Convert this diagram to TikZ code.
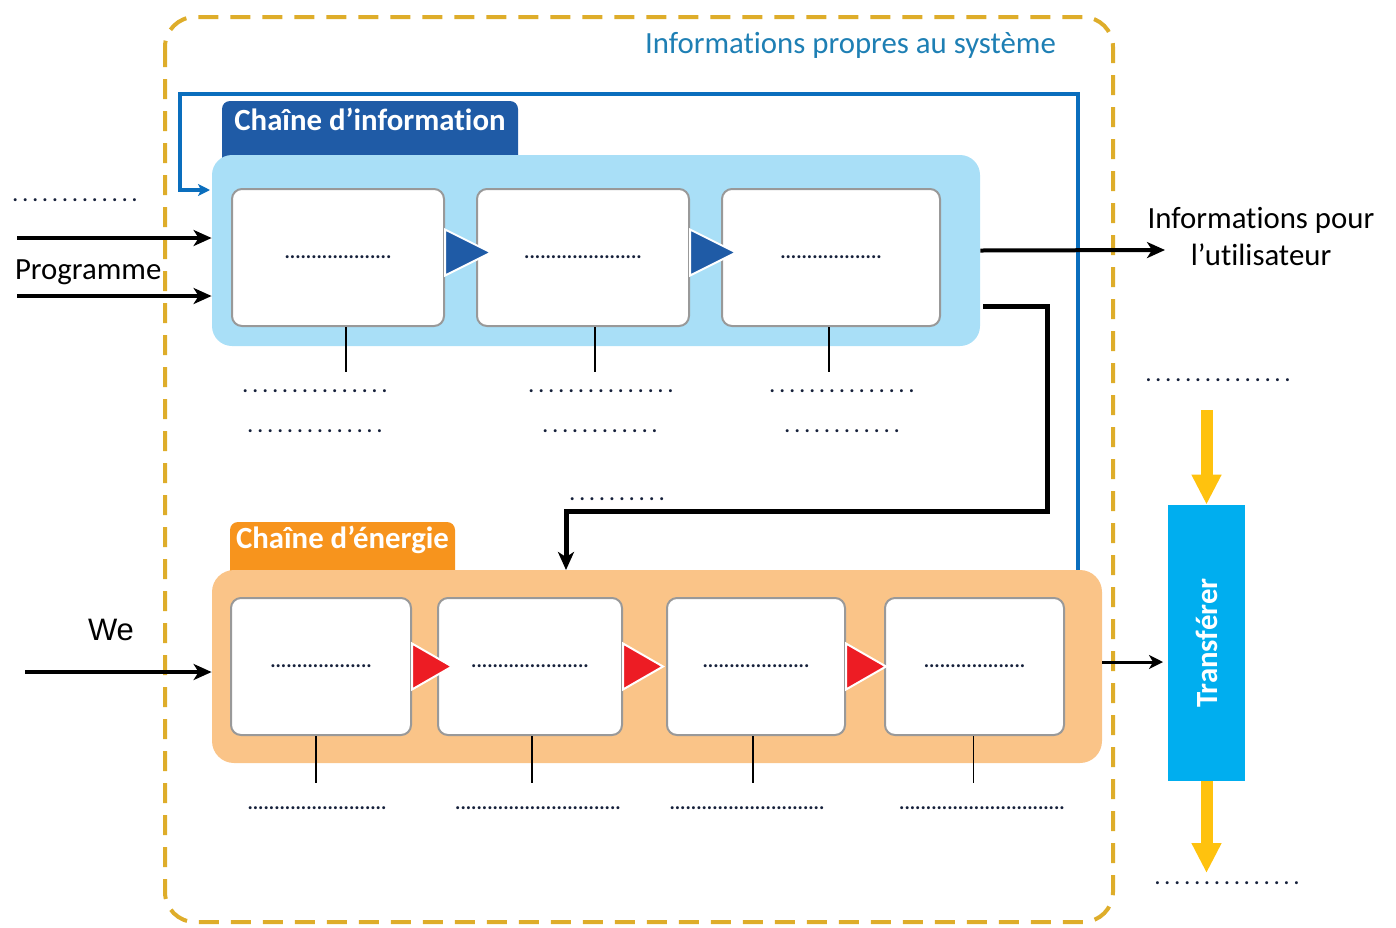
\documentclass[tikz,border=0pt]{standalone}
\usepackage{fontspec}
\usepackage{graphicx}
\setmainfont{Carlito}[Ligatures={NoCommon}]
\newfontfamily\arialfont{Liberation Sans}
\usetikzlibrary{arrows.meta}
\definecolor{cadre}{HTML}{DEAD2A}
\definecolor{titrebleu}{HTML}{1E7FB4}
\definecolor{retourbleu}{HTML}{0A6EBD}
\definecolor{infoclair}{HTML}{A9DFF7}
\definecolor{infofonce}{HTML}{1F5BA6}
\definecolor{energieclair}{HTML}{FAC488}
\definecolor{energiefonce}{HTML}{F7941D}
\definecolor{rouge}{HTML}{ED1C24}
\definecolor{transfert}{HTML}{00AEEF}
\definecolor{jaune}{HTML}{FFC20E}
\definecolor{pointcol}{HTML}{15203A}
% rows of dots, tight or spaced
\newcommand{\serre}[1]{\foreach\k in {1,...,#1}{.}}
\newcommand{\espace}[1]{\foreach\k in {1,...,#1}{.\hspace{2.3pt}}}
\begin{document}
\begin{tikzpicture}[x=0.5pt,y=-0.5pt,
		txt/.style={font=\fontsize{15.4}{18.5}\selectfont},
		titre/.style={text=white,font=\fontsize{15.4}{18.5}\selectfont\bfseries},
		boite/.style={draw=black!40,fill=white,rounded corners=5pt,line width=1pt,minimum height=68.5pt,inner sep=0pt,text=pointcol,font=\fontsize{10}{12}\selectfont\bfseries},
		pts/.style={text=pointcol,inner sep=0pt,font=\fontsize{10}{12}\selectfont\bfseries},
		trait/.style={line width=2pt,-{Stealth[length=9pt,width=8pt,inset=2.5pt]}}]
		\useasboundingbox (0,0) rectangle (1396,927);
		\coordinate (p1) at (17,238);
		\coordinate (p2) at (17,296);
		\coordinate (w0) at (25,672);
		\coordinate (u0) at (1165,250);
		\coordinate (o1) at (983,306);
		\coordinate (o2) at (1047,511);
		\coordinate (o3) at (566,570);
		\coordinate (r0) at (1078,570);
		\coordinate (r1) at (180,94);
		\coordinate (r2) at (210,190);
		\coordinate (t0) at (1163,662);
		\coordinate (j1) at (1206.5,410);
		\coordinate (j2) at (1206.5,873);
		% frame
		\draw[cadre,line width=2pt,dash pattern=on 10pt off 6pt,rounded corners=15pt] (165,17) rectangle (1113,922);
		\node[txt,text=titrebleu,anchor=east] (sys) at (1063,45) {Informations propres au système};
		% information chain
		\draw[retourbleu,line width=2pt,-{Stealth[length=6pt,width=6pt,inset=1.5pt]}] (r0) |- (r1) |- (r2);
		\node[fill=infofonce,rounded corners=4pt,minimum width=148pt,minimum height=35pt,inner sep=0pt] (ti) at (370,136) {};
		\node[titre] (tit) at (370,119) {Chaîne d’information};
		\node[fill=infoclair,rounded corners=10pt,minimum width=384pt,minimum height=95.5pt,inner sep=0pt] (ci) at (596,250.5) {};
		\node[boite,minimum width=106pt] (i1) at (338,257.5) {\serre{20}};
		\node[boite,minimum width=106pt] (i2) at (583,257.5) {\serre{22}};
		\node[boite,minimum width=109pt] (i3) at (831,257.5) {\serre{19}};
		\filldraw[fill=infofonce,draw=white,line width=1pt] (i1.east) ++(0,-28) -- ++(46,23) -- ++(-46,23) -- cycle;
		\filldraw[fill=infofonce,draw=white,line width=1pt] (i2.east) ++(0,-28) -- ++(46,23) -- ++(-46,23) -- cycle;
		\draw[line width=0.75pt] ([xshift=4pt]i1.south) -- ++(0,45);
		\draw[line width=0.75pt] ([xshift=6pt]i2.south) -- ++(0,45);
		\draw[line width=0.75pt] ([xshift=-1pt]i3.south) -- ++(0,45);
		\node[pts] (a1) at (315,391) {\espace{15}};
		\node[pts] (a2) at (601,391) {\espace{15}};
		\node[pts] (a3) at (842,391) {\espace{15}};
		\node[pts] (b1) at (315,431) {\espace{14}};
		\node[pts] (b2) at (600,431) {\espace{12}};
		\node[pts] (b3) at (842,431) {\espace{12}};
		% inputs and outputs of the information chain
		\node[pts] (d0) at (75,200) {\espace{13}};
		\node[txt,anchor=west] (prog) at (8,272) {Programme};
		\draw[trait] (p1) -- (p1 -| ci.west);
		\draw[trait] (p2) -- (p2 -| ci.west);
		\draw[trait] (ci.east) -- (u0);
		\node[txt,align=center] (util) at (1261,236.5) {Informations pour\\l’utilisateur};
		\draw[line width=2.5pt,-{Stealth[length=9pt,width=8pt,inset=2.5pt]}] (o1) -| (o2) -| (o3);
		\node[pts] (d1) at (617,499) {\espace{10}};
		% energy chain
		\node[fill=energiefonce,rounded corners=4pt,minimum width=112.5pt,minimum height=31.5pt,inner sep=0pt] (te) at (342.5,553.5) {};
		\node[titre] (tet) at (342.5,540) {Chaîne d’énergie};
		\node[fill=energieclair,rounded corners=11pt,minimum width=445pt,minimum height=96.5pt,inner sep=0pt] (ce) at (657,666.5) {};
		\node[boite,minimum width=90pt] (e1) at (321,666.5) {\serre{19}};
		\node[boite,minimum width=92pt] (e2) at (530,666.5) {\serre{22}};
		\node[boite,minimum width=89pt] (e3) at (756,666.5) {\serre{20}};
		\node[boite,minimum width=89.5pt] (e4) at (974.5,666.5) {\serre{19}};
		\filldraw[fill=rouge,draw=white,line width=1pt] (e1.east) ++(0,-23) -- ++(40,23) -- ++(-40,23) -- cycle;
		\filldraw[fill=rouge,draw=white,line width=1pt] (e2.east) ++(0,-23) -- ++(40,23) -- ++(-40,23) -- cycle;
		\filldraw[fill=rouge,draw=white,line width=1pt] (e3.east) ++(0,-23) -- ++(40,23) -- ++(-40,23) -- cycle;
		\draw[line width=0.75pt] ([xshift=-2.5pt]e1.south) -- ++(0,47);
		\draw[line width=0.75pt] ([xshift=1pt]e2.south) -- ++(0,47);
		\draw[line width=0.75pt] ([xshift=-1.5pt]e3.south) -- ++(0,47);
		\draw[line width=0.75pt] ([xshift=-0.5pt]e4.south) -- ++(0,47);
		\node[pts] (f1) at (317,808) {\serre{26}};
		\node[pts] (f2) at (538,808) {\serre{31}};
		\node[pts] (f3) at (747,808) {\serre{29}};
		\node[pts] (f4) at (982,808) {\serre{31}};
		\node[txt,font=\arialfont\fontsize{15.5}{18}\selectfont] (we) at (111,630) {We};
		\draw[trait] (w0) -- (w0 -| ce.west);
		% transfer
		\node[fill=transfert,minimum width=38.5pt,minimum height=138pt,inner sep=0pt,titre] (tr) at (1206.5,643) {\rotatebox{90}{Transférer}};
		\draw[line width=1.5pt,-{Stealth[length=7pt,width=7pt,inset=2pt]}] (t0 -| ce.east) -- (t0);
		\draw[jaune,line width=6pt,-{Triangle[length=15pt,width=14pt]}] (j1) -- (tr.north);
		\draw[jaune,line width=6pt,-{Triangle[length=15pt,width=14pt]}] (tr.south) -- (j2);
		\node[pts] (g1) at (1218,380) {\espace{15}};
		\node[pts] (g2) at (1227,883) {\espace{15}};
	\end{tikzpicture}
\end{document}
